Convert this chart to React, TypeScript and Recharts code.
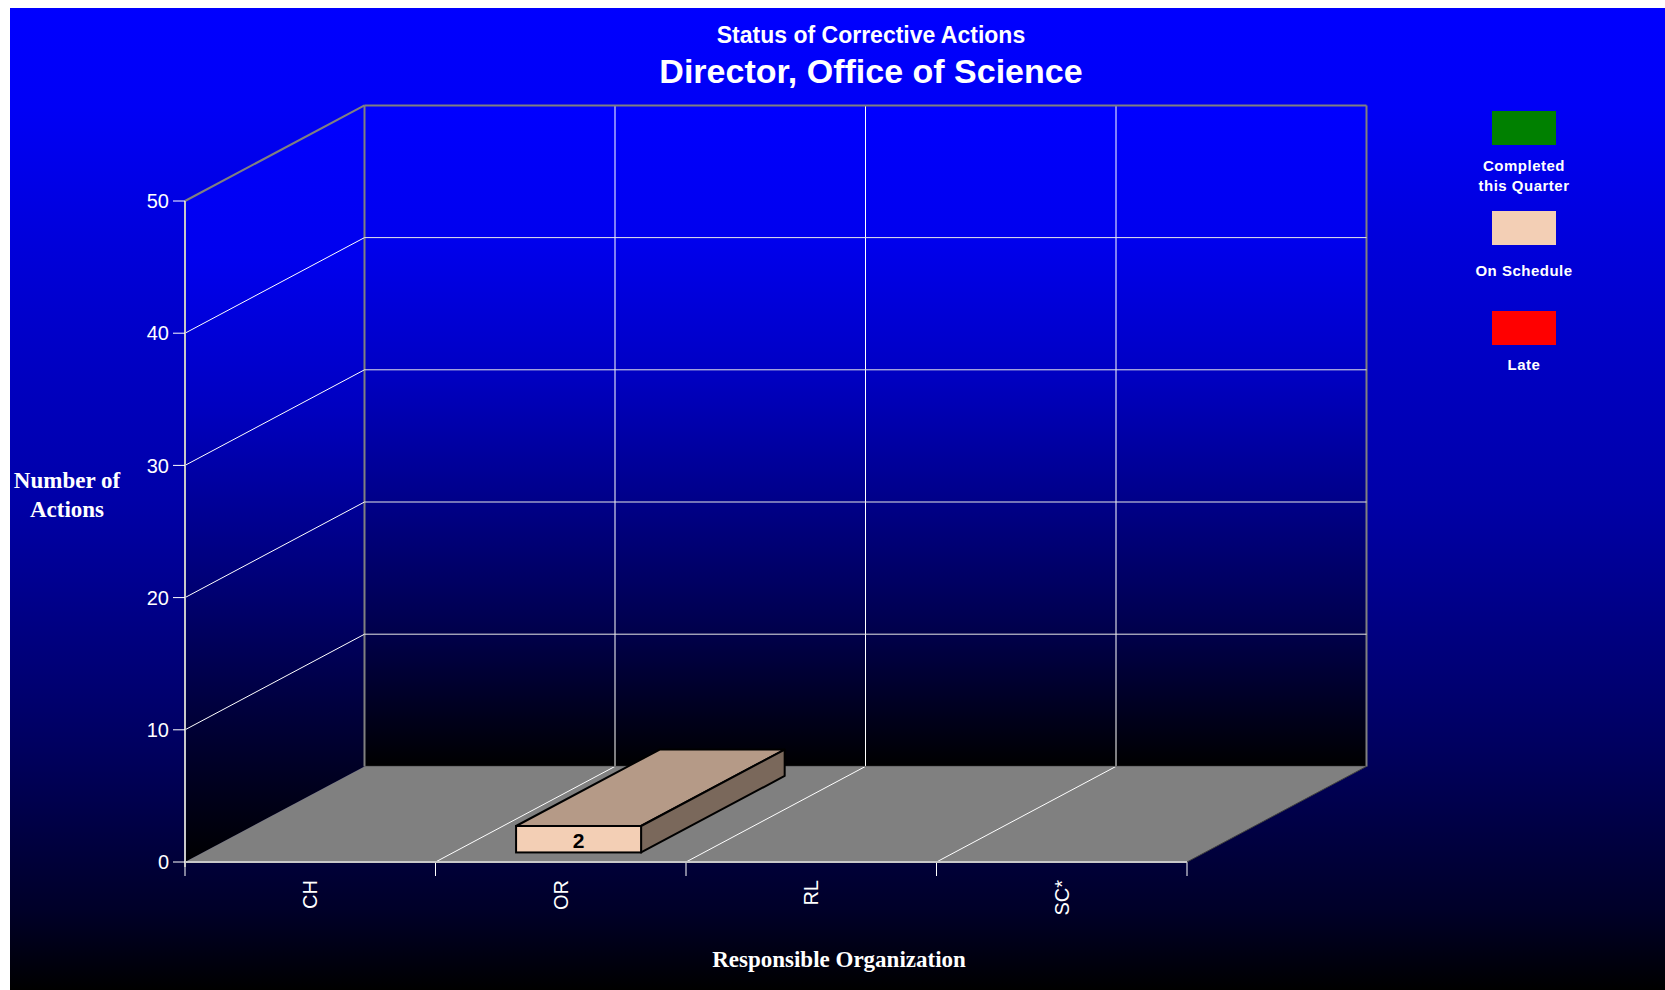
import React from 'react';
import { BarChart, Bar, XAxis, YAxis, CartesianGrid, Legend } from 'recharts';

// data
const categories = ['CH', 'OR', 'RL', 'SC*'];
const completedThisQuarter = [0, 0, 0, 0];
const onSchedule = [0, 2, 0, 0];
const late = [0, 0, 0, 0];
const yTicks = [0, 10, 20, 30, 40, 50];

const seriesNames = ['Completed this Quarter', 'On Schedule', 'Late'];
const seriesKeys = ['completed', 'onSchedule', 'late'];
const seriesColors = ['#008000', '#F3CFB5', '#FF0000'];

const data = categories.map((name, i) => ({
  name,
  completed: completedThisQuarter[i],
  onSchedule: onSchedule[i],
  late: late[i],
}));

const CHART_W = 1655;
const CHART_H = 982;
// fake 3d depth of the floor
const DEPTH_X = 179.5;
const DEPTH_Y = 95.6;
const FRONT_GAP = 0.1;
const BAR_DEPTH = 0.8;
const LEGEND_TEXT_GAP = [11, 16, 10];

const SANS = '"Liberation Sans", Arial, sans-serif';
const SERIF = '"Liberation Serif", "Times New Roman", serif';

const shade = (hex: string, f: number) => {
  const n = parseInt(hex.slice(1), 16);
  const r = Math.round(((n >> 16) & 255) * f);
  const g = Math.round(((n >> 8) & 255) * f);
  const b = Math.round((n & 255) * f);
  return `rgb(${r},${g},${b})`;
};

const Walls = ({ x, y, width, height }: any) => {
  const bottom = y + height;
  const right = x + width;
  const bx = x + DEPTH_X;
  const bTop = y - DEPTH_Y;
  const bBottom = bottom - DEPTH_Y;
  const step = width / categories.length;
  const bounds = categories.map((_, i) => x + i * step).concat(right);
  const inner = bounds.slice(1, -1);

  return (
    <g>
      <defs>
        <linearGradient id="backWall" gradientUnits="userSpaceOnUse" x1={0} y1={bTop} x2={0} y2={bBottom}>
          <stop offset="0" stopColor="#0000ff" />
          <stop offset="0.2" stopColor="#0000ee" />
          <stop offset="0.4" stopColor="#0000c4" />
          <stop offset="0.6" stopColor="#000088" />
          <stop offset="0.8" stopColor="#00004a" />
          <stop offset="1" stopColor="#000000" />
        </linearGradient>
        <linearGradient id="sideWall" gradientUnits="userSpaceOnUse" x1={0} y1={bTop} x2={0} y2={bottom}>
          <stop offset="0" stopColor="#0000ff" />
          <stop offset="0.2" stopColor="#0000ee" />
          <stop offset="0.4" stopColor="#0000c0" />
          <stop offset="0.6" stopColor="#000080" />
          <stop offset="0.8" stopColor="#00003c" />
          <stop offset="1" stopColor="#000000" />
        </linearGradient>
      </defs>
      <polygon points={`${x},${y} ${bx},${bTop} ${bx},${bBottom} ${x},${bottom}`} fill="url(#sideWall)" />
      <rect x={bx} y={bTop} width={width} height={height} fill="url(#backWall)" />
      <polygon
        points={`${x},${bottom} ${right},${bottom} ${right + DEPTH_X},${bBottom} ${bx},${bBottom}`}
        fill="#808080"
      />
      {inner.map((b, i) => (
        <g key={`in-${i}`}>
          <line x1={b + DEPTH_X} y1={bTop} x2={b + DEPTH_X} y2={bBottom} stroke="#ffffff" strokeWidth={1} />
          <line x1={b} y1={bottom} x2={b + DEPTH_X} y2={bBottom} stroke="#ffffff" strokeWidth={1} />
        </g>
      ))}
      {bounds.map((b, i) => (
        <line key={`tk-${i}`} x1={b} y1={bottom} x2={b} y2={bottom + 14} stroke="#ffffff" strokeWidth={1} />
      ))}
      {/* wall borders */}
      <line x1={x} y1={y} x2={bx} y2={bTop} stroke="#808080" strokeWidth={2} />
      <line x1={bx} y1={bTop} x2={right + DEPTH_X} y2={bTop} stroke="#808080" strokeWidth={2} />
      <line x1={bx} y1={bTop} x2={bx} y2={bBottom} stroke="#808080" strokeWidth={2} />
      <line x1={right + DEPTH_X} y1={bTop} x2={right + DEPTH_X} y2={bBottom} stroke="#808080" strokeWidth={2} />
      <line x1={bx} y1={bBottom} x2={right + DEPTH_X} y2={bBottom} stroke="#707070" strokeWidth={1} />
      <line x1={right} y1={bottom} x2={right + DEPTH_X} y2={bBottom} stroke="#404040" strokeWidth={1} />
      <line x1={x} y1={bottom} x2={x} y2={bottom + 5} stroke="#c8c8c8" strokeWidth={2} />
    </g>
  );
};

const renderGridLine = (props: any) => {
  const { x, y, width, height, y1, index } = props;
  const bottom = y + height;
  const isFloor = Math.abs(y1 - bottom) < 0.5;
  const isTop = Math.abs(y1 - y) < 0.5;
  return (
    <g key={`grid-${index}`}>
      {index === 0 && <Walls x={x} y={y} width={width} height={height} />}
      {!isFloor && !isTop && (
        <g>
          <line x1={x} y1={y1} x2={x + DEPTH_X} y2={y1 - DEPTH_Y} stroke="#ffffff" strokeWidth={1} />
          <line
            x1={x + DEPTH_X}
            y1={y1 - DEPTH_Y}
            x2={x + width + DEPTH_X}
            y2={y1 - DEPTH_Y}
            stroke="#e8e8e8"
            strokeWidth={1}
          />
        </g>
      )}
    </g>
  );
};

const Box3D = (props: any) => {
  const { x, y, width, height, fill, label } = props;
  if (!height || height <= 0 || !width) return <g />;
  const fx = x + FRONT_GAP * DEPTH_X;
  const fy = y - FRONT_GAP * DEPTH_Y;
  const ddx = BAR_DEPTH * DEPTH_X;
  const ddy = BAR_DEPTH * DEPTH_Y;
  const top = `${fx},${fy} ${fx + width},${fy} ${fx + width + ddx},${fy - ddy} ${fx + ddx},${fy - ddy}`;
  const side = `${fx + width},${fy} ${fx + width + ddx},${fy - ddy} ${fx + width + ddx},${fy + height - ddy} ${fx + width},${fy + height}`;
  return (
    <g>
      <polygon points={top} fill={shade(fill, 0.745)} stroke="#000" strokeWidth={2} strokeLinejoin="round" />
      <polygon points={side} fill={shade(fill, 0.5)} stroke="#000" strokeWidth={2} strokeLinejoin="round" />
      <rect x={fx} y={fy} width={width} height={height} fill={fill} stroke="#000" strokeWidth={2} />
      <text
        x={fx + width / 2}
        y={fy + height / 2}
        dy="0.4em"
        textAnchor="middle"
        fontFamily={SANS}
        fontWeight="bold"
        fontSize={21}
        fill="#000"
      >
        {label}
      </text>
    </g>
  );
};

const makeShape = (key: string) => (props: any) => <Box3D {...props} label={props.payload?.[key]} />;

const XTick = ({ x, y, payload }: any) => (
  <text
    x={x}
    y={y}
    transform={`rotate(-90 ${x} ${y})`}
    textAnchor="end"
    dy="0.35em"
    fill="#ffffff"
    fontFamily={SANS}
    fontSize={20}
  >
    {payload.value}
  </text>
);

const renderLegend = () => (
  <div>
    {seriesNames.map((name, i) => (
      <div key={name} style={{ height: 100, display: 'flex', flexDirection: 'column', alignItems: 'center' }}>
        <div style={{ width: 64, height: 34, background: seriesColors[i] }} />
        <div
          style={{
            marginTop: LEGEND_TEXT_GAP[i],
            width: 100,
            color: '#ffffff',
            fontFamily: SANS,
            fontWeight: 'bold',
            fontSize: 15,
            letterSpacing: 0.5,
            lineHeight: '20px',
            textAlign: 'center',
          }}
        >
          {name}
        </div>
      </div>
    ))}
  </div>
);

export default function App() {
  return (
    <div
      style={{
        position: 'absolute',
        left: 10,
        top: 8,
        width: CHART_W,
        height: CHART_H,
        overflow: 'hidden',
        background:
          'linear-gradient(to bottom, #0000ff 0%, #0000f6 10%, #0000a8 50%, #000060 75%, #000028 92%, #000000 100%)',
      }}
    >
      <div
        style={{
          position: 'absolute',
          left: 561,
          top: 16,
          width: 600,
          textAlign: 'center',
          color: '#fff',
          fontFamily: SANS,
          fontWeight: 'bold',
          fontSize: 23,
          lineHeight: '23px',
        }}
      >
        Status of Corrective Actions
      </div>
      <div
        style={{
          position: 'absolute',
          left: 561,
          top: 46,
          width: 600,
          textAlign: 'center',
          color: '#fff',
          fontFamily: SANS,
          fontWeight: 'bold',
          fontSize: 34,
          lineHeight: '34px',
        }}
      >
        Director, Office of Science
      </div>
      <div
        style={{
          position: 'absolute',
          left: 0,
          top: 459,
          width: 114,
          textAlign: 'center',
          color: '#fff',
          fontFamily: SERIF,
          fontWeight: 'bold',
          fontSize: 23,
          lineHeight: '28.5px',
        }}
      >
        Number of
        <br />
        Actions
      </div>
      <div
        style={{
          position: 'absolute',
          left: 529,
          top: 940,
          width: 600,
          textAlign: 'center',
          color: '#fff',
          fontFamily: SERIF,
          fontWeight: 'bold',
          fontSize: 23,
          lineHeight: '23px',
        }}
      >
        Responsible Organization
      </div>
      <BarChart
        width={CHART_W}
        height={CHART_H}
        data={data}
        margin={{ top: 193, right: 478, bottom: 68, left: 115 }}
        barCategoryGap="25%"
        style={{ position: 'absolute', left: 0, top: 0 }}
      >
        <CartesianGrid vertical={false} horizontal={renderGridLine} />
        <XAxis
          dataKey="name"
          height={60}
          interval={0}
          tickSize={14}
          tickMargin={4}
          tickLine={false}
          axisLine={{ stroke: '#c8c8c8', strokeWidth: 2 }}
          tick={<XTick />}
        />
        <YAxis
          type="number"
          domain={[0, 50]}
          ticks={yTicks}
          interval={0}
          width={60}
          tickSize={12}
          tickMargin={4}
          axisLine={{ stroke: '#c8c8c8', strokeWidth: 2 }}
          tickLine={{ stroke: '#ffffff' }}
          tick={{ fill: '#ffffff', fontSize: 20, fontFamily: SANS }}
        />
        <Legend
          layout="horizontal"
          align="center"
          verticalAlign="middle"
          width={150}
          wrapperStyle={{ left: 1439, top: 103 }}
          content={renderLegend}
        />
        {seriesKeys.map((key, i) => (
          <Bar
            key={key}
            dataKey={key}
            name={seriesNames[i]}
            stackId="status"
            fill={seriesColors[i]}
            isAnimationActive={false}
            shape={makeShape(key)}
          />
        ))}
      </BarChart>
    </div>
  );
}
